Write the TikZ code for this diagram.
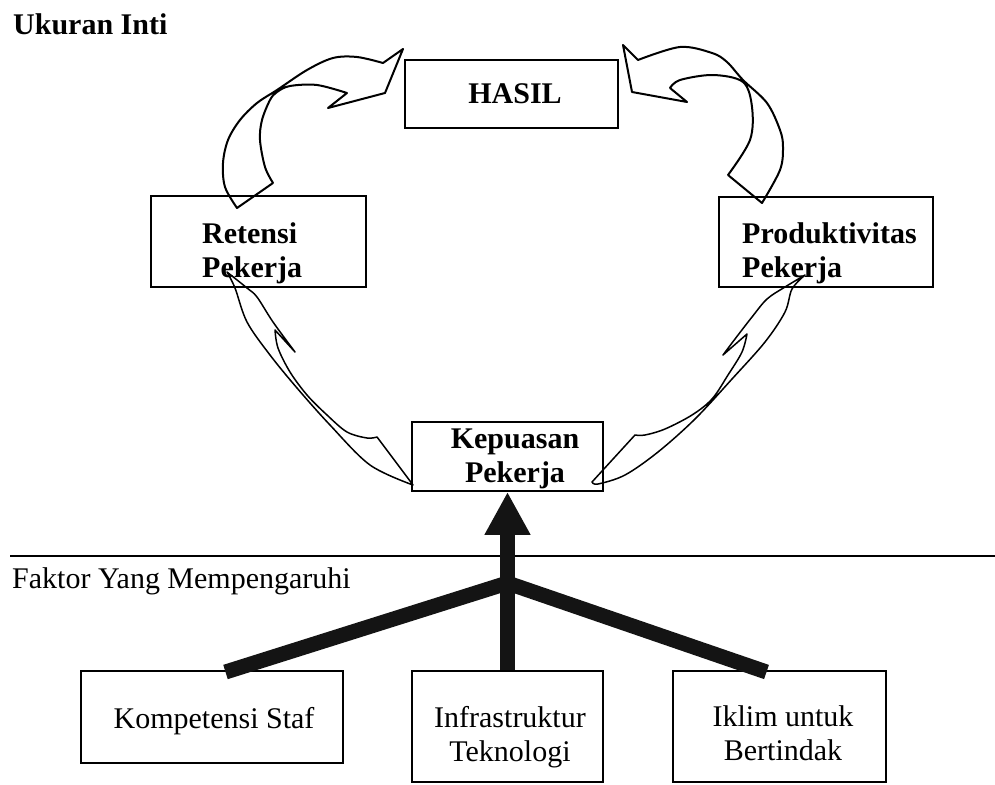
\documentclass[tikz,border=0pt]{standalone}
\usepackage{fontspec}
\setmainfont{Liberation Serif}
\usetikzlibrary{arrows.meta}
\begin{document}
\begin{tikzpicture}[x=1pt,y=-1pt,
  box/.style={draw,line width=1.8pt,inner sep=0pt,minimum width=#1},
  txt/.style={inner sep=0pt,font=\fontsize{30}{34}\selectfont},
  btxt/.style={inner sep=0pt,font=\fontsize{30}{34}\selectfont\bfseries},
  bigarrow/.style={draw=black,line width=2pt,line join=round},
  thinarrow/.style={draw=black,line width=1.5pt,line join=round},
  heavy/.style={draw=black!92,line width=15pt}]
\useasboundingbox (0,0) rectangle (995,784);

% boxes
\node[box=213pt,minimum height=68pt] (hasil) at (511.5,94) {};
\node[box=215pt,minimum height=91pt] (ret) at (258.5,241.5) {};
\node[box=214pt,minimum height=90pt] (prod) at (826,242) {};
\node[box=191pt,minimum height=69pt] (kep) at (507.5,456.5) {};
\node[box=262pt,minimum height=92pt] (komp) at (212,717) {};
\node[box=191pt,minimum height=111pt] (infra) at (507.5,726.5) {};
\node[box=213pt,minimum height=111pt] (iklim) at (779.5,726.5) {};

% texts
\node[btxt,anchor=base west] (title) at (13,35) {Ukuran Inti};
\node[btxt,anchor=base] (thasil) at (515,103) {HASIL};
\node[btxt,anchor=west,align=left] (tret) at (202,253) {Retensi\\Pekerja};
\node[btxt,anchor=west,align=left] (tprod) at (742,253) {Produktivitas\\Pekerja};
\node[btxt,align=center] (tkep) at (515,459) {Kepuasan\\Pekerja};
\node[txt,anchor=base west] (faktor) at (12,588) {Faktor Yang Mempengaruhi};
\node[txt] (tkomp) at (214,721) {Kompetensi Staf};
\node[txt,align=center] (tinfra) at (510,737) {Infrastruktur\\Teknologi};
\node[txt,align=center] (tiklim) at (783,733) {Iklim untuk\\Bertindak};

% separator line
\coordinate (hl) at (10,556);
\coordinate (hr) at (995,556);
\draw[line width=1.4pt] (hl) -- (hr);

% curved block arrow: Retensi -> HASIL
\draw[bigarrow] plot[smooth,tension=0.55] coordinates {(237,208) (225,187) (223,163) (228,140) (240,120) (257,103) (277,90) (307,70) (333,58) (357,57) (383,63)}
  -- (403,49) -- (385,93) -- (328,108) -- (347,93)
  -- plot[smooth,tension=0.55] coordinates {(347,93) (317,85) (290,86) (277,92) (270,100) (262,120) (260,140) (265,167) (273,183)}
  -- cycle;

% curved block arrow: Produktivitas -> HASIL
\draw[bigarrow] (623,45) -- (638,60)
  -- plot[smooth,tension=0.55] coordinates {(638,60) (680,47) (712,53) (727,62) (743,80) (767,103) (780,130) (783,147) (780,170) (762,203)}
  -- (728,175)
  -- plot[smooth,tension=0.55] coordinates {(728,175) (750,140) (752,107) (743,82) (713,75) (680,80) (670,88)}
  -- (687,102) -- (632,92) -- cycle;

% thin curved arrow: Kepuasan -> Retensi
\draw[thinarrow] (227,272)
  -- plot[smooth,tension=0.55] coordinates {(227,272) (247,288) (257,297) (273,322) (295,352)}
  -- (275,330)
  -- plot[smooth,tension=0.55] coordinates {(275,330) (278,348) (290,372) (307,395) (327,415) (347,432) (367,438) (377,437)}
  -- (413,485)
  -- plot[smooth,tension=0.55] coordinates {(413,485) (370,465) (330,425) (297,388) (270,355) (247,322) (235,288) (227,272)}
  -- cycle;

% thin curved arrow: Kepuasan -> Produktivitas
\draw[thinarrow] (805,275)
  -- plot[smooth,tension=0.55] coordinates {(805,275) (785,287) (767,299) (752,317) (735,339) (723,355)}
  -- (747,334)
  -- plot[smooth,tension=0.55] coordinates {(747,334) (742,352) (728,375) (712,399) (692,415) (665,429) (645,435) (635,435)}
  -- (592,482)
  -- plot[smooth,tension=0.55] coordinates {(592,482) (598,484) (625,475) (658,452) (695,419) (732,379) (765,342) (785,312) (792,289) (805,275)}
  -- cycle;

% heavy arrows from factors
\coordinate (junc) at (507.5,583);
\coordinate (kompt) at (225.5,672);
\coordinate (iklt) at (766.5,672);
\draw[heavy,-{Triangle[length=43pt,width=43pt]}] (infra.north) -- (kep.south);
\draw[heavy,line join=miter] (kompt) -- (junc) -- (iklt);
\end{tikzpicture}
\end{document}
